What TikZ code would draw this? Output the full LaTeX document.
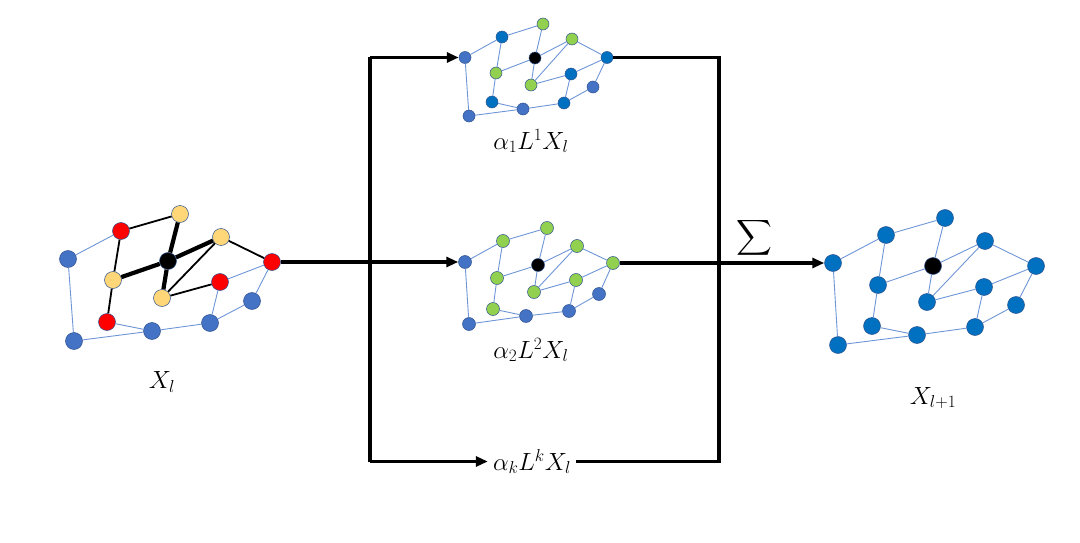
\documentclass[tikz,border=0pt]{standalone}
\usepackage{amsmath}
\usepackage{exscale}
\usetikzlibrary{arrows.meta}
\definecolor{bluemed}{RGB}{68,114,196}
\definecolor{bluedark}{RGB}{0,112,192}
\definecolor{gr}{RGB}{146,208,80}
\definecolor{yel}{RGB}{255,214,120}
\definecolor{outl}{RGB}{47,82,143}
\definecolor{edgeblue}{RGB}{110,150,215}
\begin{document}
\begin{tikzpicture}[x=1pt,y=-1pt,
  dot/.style={circle,draw=outl,line width=0.5pt,inner sep=0pt},
  edge/.style={draw=edgeblue,line width=0.9pt},
  thinblk/.style={draw=black,line width=1.8pt},
  thickblk/.style={draw=black,line width=4.2pt},
  bus/.style={draw=black,line width=3.2pt},
  tip/.style={-{Triangle[length=12pt,width=10pt]}},
  lab/.style={font=\fontsize{24}{28}\selectfont,inner sep=1pt}]
\useasboundingbox (0,0) rectangle (1080,543);
% ---------- left graph ----------
\foreach \n/\x/\y/\c in {A/68/259/bluemed,B/121/231/red,C/180/214/yel,D/168/261/black,
  E/221/237/yel,F/272/262/red,G/113/280/yel,H/162/298/yel,I/220/282/red,J/252/301/bluemed,
  K/107/322/red,L/152/331/bluemed,M/210/323/bluemed,N/74/341/bluemed}
  {\node[dot,fill=\c,minimum size=17pt] (L\n) at (\x,\y) {};}
\foreach \a/\b in {A/B,A/N,I/F,F/J,J/M,I/M,K/L,L/M,N/L} \draw[edge] (L\a) -- (L\b);
\foreach \a/\b in {B/C,B/G,G/K,H/E,H/I,E/F} \draw[thinblk] (L\a) -- (L\b);
\foreach \a/\b in {C/D,D/G,D/E,D/H} \draw[thickblk] (L\a) -- (L\b);
% ---------- top graph ----------
\foreach \n/\x/\y/\c in {A/465/57.5/bluemed,B/502/37/bluedark,C/543/24/gr,D/535/58/black,
  E/572/39/gr,F/607/57.5/bluedark,G/496/73/gr,H/531/85/gr,I/571/74/bluedark,J/593/87/bluemed,
  K/492/102/bluedark,L/523/109/bluemed,M/564/103/bluedark,N/469/116/bluemed}
  {\node[dot,fill=\c,minimum size=12pt] (T\n) at (\x,\y) {};}
% ---------- middle graph ----------
\foreach \n/\x/\y/\c in {A/465/262/bluemed,B/503/241/gr,C/547/228/gr,D/538/265/black,
  E/577/246/gr,F/613/263/gr,G/497/278/gr,H/534/292/gr,I/576/280/gr,J/599/294/bluemed,
  K/493/309/gr,L/526/316/bluemed,M/569/311/bluemed,N/469/324/bluemed}
  {\node[dot,fill=\c,minimum size=13pt] (M\n) at (\x,\y) {};}
% ---------- right graph ----------
\foreach \n/\x/\y/\c in {A/833/263/bluedark,B/886/235/bluedark,C/945/218/bluedark,D/933/266/black,
  E/985/241/bluedark,F/1036/266/bluedark,G/878/285/bluedark,H/927/302/bluedark,I/984/287/bluedark,
  J/1016/305/bluedark,K/872/326/bluedark,L/917/335/bluedark,M/975/327/bluedark,N/838/345/bluedark}
  {\node[dot,fill=\c,minimum size=17pt] (R\n) at (\x,\y) {};}
\foreach \g in {T,M,R}{
  \foreach \a/\b in {A/B,A/N,B/C,B/G,C/D,D/G,D/E,D/H,H/E,H/I,E/F,I/F,F/J,J/M,I/M,G/K,K/L,L/M,N/L}
    \draw[edge] (\g\a) -- (\g\b);
}
% ---------- labels ----------
\node[lab] (xl) at (162,382) {$X_l$};
\node[lab] (lab1) at (531,141) {$\alpha_1L^1X_l$};
\node[lab] (lab2) at (531,350) {$\alpha_2L^2X_l$};
\node[lab,inner sep=5pt] (labk) at (532,461.5) {$\alpha_kL^kX_l$};
\node[lab] (xl1) at (933,398) {$X_{l+1}$};
\node[font=\fontsize{24}{28}\selectfont] (sig) at (754,238) {$\displaystyle\sum$};
% ---------- connectors ----------
\coordinate (bt) at (370,57.5);
\coordinate (bb) at (370,461.5);
\coordinate (rt) at (719,57.5);
\coordinate (rb) at (719,461.5);
\draw[bus,tip] (LF) -- (MA);
\draw[bus] (bt) -- (bb);
\draw[bus,tip] (bt) -- (TA);
\draw[bus,tip] (bb) -- (labk.west);
\draw[bus] (labk.east) -- (rb) -- (rt) -- (TF);
\draw[bus,tip] (MF) -- (RA);
\end{tikzpicture}
\end{document}
